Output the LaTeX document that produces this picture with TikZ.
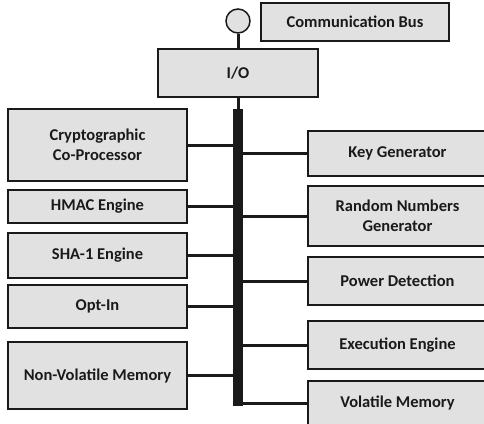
\documentclass[tikz,border=0pt]{standalone}
\usepackage{fontspec}
\setmainfont{Carlito}
\definecolor{boxfill}{HTML}{E1E1E1}
\definecolor{ink}{HTML}{1A1A1A}
\begin{document}
\begin{tikzpicture}[x=1pt,y=-1pt,
  blk/.style={draw=ink,line width=1.8pt,fill=boxfill,inner sep=0pt,minimum width=179pt,
    align=center,text=ink,font=\fontsize{16.5}{19.5}\selectfont\bfseries},
  conn/.style={draw=ink,line width=3pt},
  stem/.style={draw=ink,line width=3pt}]
\useasboundingbox (0,0) rectangle (484,423);
\clip (0,0) rectangle (484,423);
% top
\node[blk,minimum width=188pt,minimum height=38pt] (comm) at (355,22) {Communication Bus};
\node[blk,minimum width=160pt,minimum height=48pt] (io) at (238,73) {I/O};
\node[draw=ink,line width=1.5pt,fill=boxfill,circle,minimum size=24pt,inner sep=0pt] (port) at (238,21) {};
% bus bar
\node[fill=ink,draw=none,inner sep=0pt,minimum width=10pt,minimum height=297pt] (bar) at (238,257.5) {};
% left boxes
\node[blk,minimum height=72pt] (crypto) at (97.5,145) {Cryptographic\\Co-Processor};
\node[blk,minimum height=33pt] (hmac) at (97.5,206.5) {HMAC Engine};
\node[blk,minimum height=45pt] (sha) at (97.5,255.5) {SHA-1 Engine};
\node[blk,minimum height=43pt] (optin) at (97.5,306.5) {Opt-In};
\node[blk,minimum height=67pt] (nvm) at (97.5,375.5) {Non-Volatile Memory};
% right boxes
\node[blk,minimum height=45pt] (keygen) at (397.5,153.5) {Key Generator};
\node[blk,minimum height=60pt] (rng) at (397.5,216) {Random Numbers\\Generator};
\node[blk,minimum height=48pt] (power) at (397.5,281) {Power Detection};
\node[blk,minimum height=48pt] (exec) at (397.5,345) {Execution Engine};
\node[blk,minimum height=44pt] (vol) at (397.5,403) {Volatile Memory};
% stems
\draw[stem] (port.south) -- (io.north);
\draw[stem] (io.south) -- (bar.north);
% connectors
\foreach \n in {crypto,hmac,sha,optin,nvm}{
  \draw[conn] (\n.east) -- (\n.east -| bar.west);
}
\foreach \n in {keygen,rng,power,exec,vol}{
  \draw[conn] (\n.west) -- (\n.west -| bar.east);
}
\end{tikzpicture}
\end{document}
